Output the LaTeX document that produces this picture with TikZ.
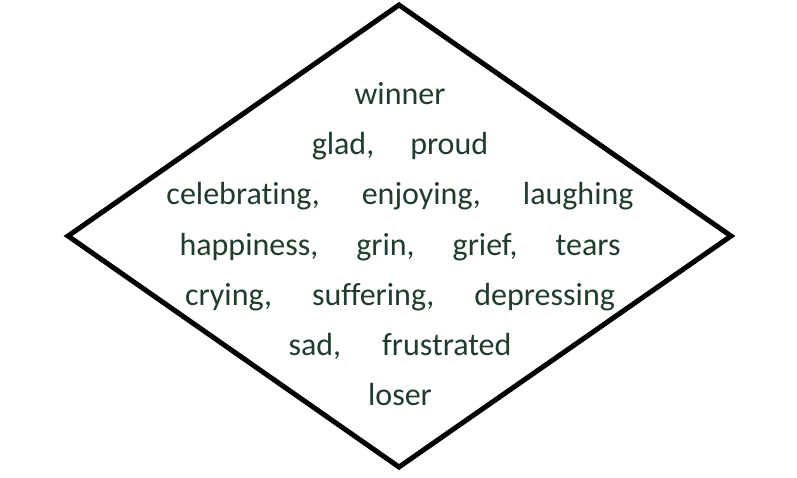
\documentclass[tikz,border=0pt]{standalone}
\usepackage{fontspec}
\setmainfont{Carlito}[Ligatures=NoCommon]
\definecolor{txtgreen}{HTML}{1F3D2A}
\begin{document}
\begin{tikzpicture}[x=1pt,y=1pt,
  word/.style={text=txtgreen,font=\fontsize{32}{36}\selectfont,inner sep=0pt,anchor=base}]
\useasboundingbox (0,0) rectangle (797,477);
\coordinate (T) at (399,472);
\coordinate (L) at (68,241);
\coordinate (R) at (731,241);
\coordinate (B) at (399,10);
\draw[line width=5pt,line join=miter] (T) -- (R) -- (B) -- (L) -- cycle;
\newcommand\gapw[1]{\hspace{#1pt}}
\node[word] (l1) at (400,372) {winner};
\node[word] (l2) at (400,322) {glad,\gapw{36}proud};
\node[word] (l3) at (400,272) {celebrating,\gapw{42}enjoying,\gapw{42}laughing};
\node[word] (l4) at (400,222) {happiness,\gapw{38}grin,\gapw{38}grief,\gapw{38}tears};
\node[word] (l5) at (400,172) {crying,\gapw{40}suffering,\gapw{40}depressing};
\node[word] (l6) at (400,122) {sad,\gapw{41}frustrated};
\node[word] (l7) at (400,72) {loser};
\end{tikzpicture}
\end{document}
